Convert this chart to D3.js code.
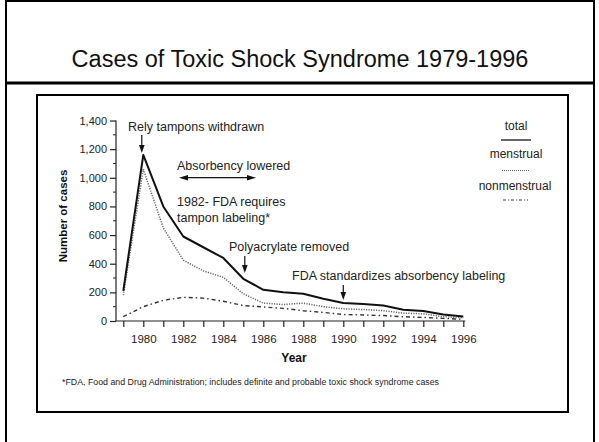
<!DOCTYPE html>
<html>
<head>
<meta charset="utf-8">
<script src="https://cdn.jsdelivr.net/npm/d3@7"></script>
<style>
  body { margin: 0; background: #fff; }
  svg { display: block; font-family: "Liberation Sans", Arial, sans-serif; }
</style>
</head>
<body>
<svg width="599" height="442"></svg>
<script>
// values
var years = [1979, 1980, 1981, 1982, 1983, 1984, 1985, 1986, 1987, 1988, 1989, 1990, 1991, 1992, 1993, 1994, 1995, 1996];
var total = [210, 1160, 800, 590, 515, 440, 295, 218, 200, 190, 155, 125, 118, 108, 78, 70, 45, 32];
var menstrual = [180, 1060, 650, 425, 350, 305, 190, 125, 115, 125, 100, 85, 80, 72, 55, 50, 30, 22];
var nonmenstrual = [30, 100, 145, 165, 160, 138, 108, 98, 88, 72, 60, 45, 42, 38, 30, 25, 18, 12];
var yTicks = [0, 200, 400, 600, 800, 1000, 1200, 1400];
var xLabels = [1980, 1982, 1984, 1986, 1988, 1990, 1992, 1994, 1996];

var svg = d3.select('svg');

// slide frame
svg.append('rect').attr('x', 6).attr('y', 1).attr('width', 588).attr('height', 460)
    .attr('fill', 'none').attr('stroke', '#000').attr('stroke-width', 2);
svg.append('line').attr('x1', 6).attr('x2', 594).attr('y1', 83).attr('y2', 83)
    .attr('stroke', '#000').attr('stroke-width', 3);
svg.append('text').text('Cases of Toxic Shock Syndrome 1979-1996')
    .attr('x', 300).attr('y', 67).attr('text-anchor', 'middle')
    .style('font-size', '23.5px').attr('fill', '#111');

// picture box
svg.append('rect').attr('x', 37).attr('y', 95).attr('width', 531).attr('height', 317)
    .attr('fill', 'none').attr('stroke', '#000').attr('stroke-width', 2);

var x = d3.scaleLinear().domain([1979, 1996]).range([123.3, 463.3]);
var y = d3.scaleLinear().domain([0, 1400]).range([321, 120.5]);

// y axis
var gy = svg.append('g').attr('transform', 'translate(116,0)');
gy.call(d3.axisLeft(y).tickValues(yTicks).tickSize(6).tickPadding(3).tickFormat(d3.format(',')));
gy.selectAll('line').attr('stroke', '#222').attr('stroke-width', 1.2);
gy.selectAll('.domain').remove();
gy.append('line').attr('y1', y(0)).attr('y2', y(1400)).attr('stroke', '#222').attr('stroke-width', 1.2);
gy.selectAll('.minor').data(d3.range(100, 1400, 200)).enter().append('line')
    .attr('x1', -3).attr('x2', 0).attr('y1', function(d){ return y(d); }).attr('y2', function(d){ return y(d); })
    .attr('stroke', '#222');
gy.selectAll('text').style('font-size', '11px').attr('fill', '#222');

// x axis
var gx = svg.append('g').attr('transform', 'translate(0,' + y(0) + ')');
gx.call(d3.axisBottom(x).tickValues(years).tickSize(6).tickPadding(8)
    .tickFormat(function(d){ return xLabels.indexOf(d) >= 0 ? d : ''; }));
gx.selectAll('.domain').remove();
gx.append('line').attr('x1', 116).attr('x2', x(1996) + 2).attr('stroke', '#222').attr('stroke-width', 1.2);
gx.selectAll('line').attr('stroke', '#222').attr('stroke-width', 1.2);
gx.selectAll('text').style('font-size', '11.5px').attr('fill', '#222');

svg.append('text').text('Year').attr('x', 294).attr('y', 362).attr('text-anchor', 'middle')
    .style('font-size', '12px').style('font-weight', 'bold').attr('fill', '#111');
svg.append('text').text('Number of cases').attr('transform', 'translate(67,216) rotate(-90)')
    .attr('text-anchor', 'middle').style('font-size', '11.5px').style('font-weight', 'bold').attr('fill', '#111');

// lines
var makeLine = d3.line()
    .x(function(d, i){ return x(years[i]); })
    .y(function(d){ return y(d); });

svg.append('path').attr('d', makeLine(nonmenstrual)).attr('fill', 'none')
    .attr('stroke', '#333').attr('stroke-width', 1.4).attr('stroke-dasharray', '4,3,1.5,3');
svg.append('path').attr('d', makeLine(menstrual)).attr('fill', 'none')
    .attr('stroke', '#666').attr('stroke-width', 1.5).attr('stroke-dasharray', '1.2,1.3');
svg.append('path').attr('d', makeLine(total)).attr('fill', 'none')
    .attr('stroke', '#111').attr('stroke-width', 2).attr('stroke-linejoin', 'round');

// legend
var legend = svg.append('g').style('font-size', '12px').attr('fill', '#222');
legend.append('text').text('total').attr('x', 516).attr('y', 129.5).attr('text-anchor', 'middle');
legend.append('line').attr('x1', 501).attr('x2', 531).attr('y1', 140).attr('y2', 140)
    .attr('stroke', '#333').attr('stroke-width', 1.5);
legend.append('text').text('menstrual').attr('x', 516).attr('y', 157.5).attr('text-anchor', 'middle');
legend.append('line').attr('x1', 502).attr('x2', 530).attr('y1', 170.5).attr('y2', 170.5)
    .attr('stroke', '#666').attr('stroke-width', 1).attr('stroke-dasharray', '1,1');
legend.append('text').text('nonmenstrual').attr('x', 515).attr('y', 190).attr('text-anchor', 'middle');
legend.append('line').attr('x1', 503).attr('x2', 528).attr('y1', 200).attr('y2', 200)
    .attr('stroke', '#444').attr('stroke-width', 1.2).attr('stroke-dasharray', '3,2,1,2');

// annotations
var notes = svg.append('g').style('font-size', '12.5px').attr('fill', '#222');
notes.append('text').text('Rely tampons withdrawn').attr('x', 128).attr('y', 131);
notes.append('text').text('Absorbency lowered').attr('x', 177).attr('y', 169.5);
notes.append('text').text('1982- FDA requires').attr('x', 177).attr('y', 206);
notes.append('text').text('tampon labeling*').attr('x', 177).attr('y', 221.5);
notes.append('text').text('Polyacrylate removed').attr('x', 229).attr('y', 251);
notes.append('text').text('FDA standardizes absorbency labeling').attr('x', 292).attr('y', 279.5);

function downArrow(xp, y0, y1) {
    svg.append('line').attr('x1', xp).attr('x2', xp).attr('y1', y0).attr('y2', y1 - 6)
        .attr('stroke', '#111').attr('stroke-width', 1.2);
    svg.append('path').attr('d', 'M' + (xp - 2.8) + ',' + (y1 - 8) + 'L' + (xp + 2.8) + ',' + (y1 - 8) + 'L' + xp + ',' + y1 + 'Z')
        .attr('fill', '#111');
}
downArrow(x(1980) - 1.5, 135, 153);
downArrow(x(1985) + 1.5, 256, 273);
downArrow(x(1990), 285, 300);

// double arrow
svg.append('line').attr('x1', 186).attr('x2', 249).attr('y1', 177.7).attr('y2', 177.7)
    .attr('stroke', '#111').attr('stroke-width', 1.2);
svg.append('path').attr('d', 'M179,177.7L188,175L188,180.4Z').attr('fill', '#111');
svg.append('path').attr('d', 'M256,177.7L247,175L247,180.4Z').attr('fill', '#111');

svg.append('text').text('*FDA, Food and Drug Administration; includes definite and probable toxic shock syndrome cases')
    .attr('x', 62).attr('y', 385).attr('textLength', 377).attr('lengthAdjust', 'spacingAndGlyphs')
    .style('font-size', '8.5px').attr('fill', '#222');
</script>
</body>
</html>
